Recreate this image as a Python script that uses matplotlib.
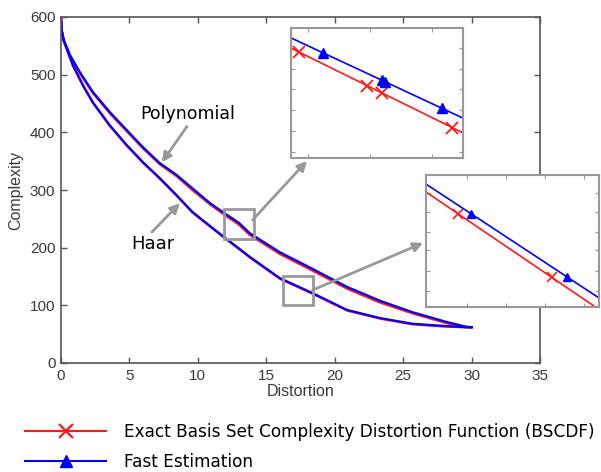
import matplotlib.pyplot as plt
from matplotlib.lines import Line2D
from matplotlib.patches import Rectangle

# main curves (upper = polynomial, lower = Haar)
poly_x = [0, 0.05, 0.2, 0.66, 1.39, 2.33, 3.57, 4.8, 6.0, 7.2, 8.45, 9.6, 10.9, 12.0, 13.0,
          13.8, 16.0, 18.4, 20.9, 23.3, 25.7, 28.2, 29.6, 30.0]
poly_fast = [600, 577, 560, 534, 504, 470, 435, 404, 374, 347, 326, 303, 277, 259, 243,
             225, 192, 163, 132, 108, 88, 71, 63, 62]
poly_exact = [600, 576, 558, 532, 502, 468, 433, 402, 372, 345, 324, 300, 275, 256, 240,
              222, 189, 160, 129, 105, 86, 69, 62, 62]

haar_x = [0, 0.05, 0.2, 0.5, 0.88, 1.6, 2.33, 3.57, 4.8, 6.0, 7.2, 8.45, 9.6, 11.4, 13.8,
          16.0, 18.4, 20.9, 23.3, 25.7, 28.2, 29.6, 30.0]
haar_fast = [600, 577, 560, 540, 516, 482, 452, 412, 378, 348, 321, 291, 262, 228, 184,
             147, 121, 92, 78, 68, 64, 62, 62]
haar_exact = [600, 576, 559, 539, 515, 481, 451, 411, 377, 347, 320, 290, 261, 227, 183,
              146, 120, 91, 77, 67, 63, 62, 62]

# zoomed views
z1_line_x = [11.8, 14.2]
z1_fast_line = [264.5, 229.5]
z1_exact_line = [260.5, 223.5]
z1_exact_mx = [12.0, 12.87, 13.06, 13.96]
z1_exact_my = [257.5, 244.0, 241.1, 227.2]
z1_fast_mx = [12.31, 13.06, 13.10, 13.83]
z1_fast_my = [257.0, 246.1, 245.5, 234.9]

z2_line_x = [16.1, 18.5]
z2_fast_line = [149.5, 101.5]
z2_exact_line = [146.5, 97.0]
z2_exact_mx = [16.61, 17.80]
z2_exact_my = [135.9, 111.4]
z2_fast_mx = [16.77, 17.99]
z2_fast_my = [136.1, 111.7]

RED = '#ff1a1a'
BLUE = '#0000ff'
GRAY = '#999999'
AX = '#555555'

plt.rcParams['font.family'] = ['Liberation Sans', 'DejaVu Sans']

fig = plt.figure(figsize=(6.01, 4.72), dpi=100)
ax = fig.add_axes([61 / 601, 1 - 363 / 472, 479 / 601, 346 / 472])

ax.plot(poly_x, poly_exact, color=RED, lw=1.7)
ax.plot(haar_x, haar_exact, color=RED, lw=1.7)
ax.plot(poly_x, poly_fast, color=BLUE, lw=1.6)
ax.plot(haar_x, haar_fast, color=BLUE, lw=1.6)

ax.set_xlim(0, 35)
ax.set_ylim(0, 600)
ax.set_xticks([0, 5, 10, 15, 20, 25, 30, 35])
ax.set_yticks([0, 100, 200, 300, 400, 500, 600])
ax.tick_params(direction='in', top=True, right=True, length=4, width=1, colors=AX,
               labelsize=11, labelcolor='#3a3a3a', pad=4)
for s in ax.spines.values():
    s.set_color(AX)
    s.set_linewidth(1.2)
ax.set_xlabel('Distortion', fontsize=11.5, color='#3a3a3a', labelpad=1)
ax.set_ylabel('Complexity', fontsize=11.5, color='#3a3a3a', labelpad=5)

# boxes on the main plot
ax.add_patch(Rectangle((11.9, 215), 2.2, 52, fill=False, ec=GRAY, lw=2, zorder=5))
ax.add_patch(Rectangle((16.2, 100), 2.2, 51, fill=False, ec=GRAY, lw=2, zorder=5))

arrow = dict(arrowstyle='-|>', color=GRAY, lw=2, mutation_scale=14, shrinkA=0, shrinkB=0)
ax.text(9.26, 431, 'Polynomial', fontsize=12.5, family='DejaVu Sans', ha='center', va='center')
ax.annotate('', xy=(7.37, 348), xytext=(9.2, 410), arrowprops=arrow)
ax.text(6.7, 206, 'Haar', fontsize=13, family='DejaVu Sans', ha='center', va='center')
ax.annotate('', xy=(8.68, 277), xytext=(6.64, 227), arrowprops=arrow)

# inset 1
in1 = fig.add_axes([291 / 601, 1 - 158 / 472, 172 / 601, 130 / 472])
in1.plot(z1_line_x, z1_exact_line, color=RED, lw=1.2)
in1.plot(z1_line_x, z1_fast_line, color=BLUE, lw=1.2)
in1.plot(z1_exact_mx, z1_exact_my, ls='none', marker='x', ms=8, mew=1.3, color=RED)
in1.plot(z1_fast_mx, z1_fast_my, ls='none', marker='^', ms=7, color=BLUE)
in1.set_xlim(11.9, 14.1)
in1.set_ylim(215, 267)
in1.set_xticks([12.12, 12.91, 13.70])
in1.set_yticks([217.4, 225.8, 234.2, 242.6, 250.6, 259])

# inset 2
in2 = fig.add_axes([426 / 601, 1 - 307 / 472, 173 / 601, 132 / 472])
in2.plot(z2_line_x, z2_exact_line, color=RED, lw=1.2)
in2.plot(z2_line_x, z2_fast_line, color=BLUE, lw=1.2)
in2.plot(z2_exact_mx, z2_exact_my, ls='none', marker='x', ms=7, mew=1.2, color=RED)
in2.plot(z2_fast_mx, z2_fast_my, ls='none', marker='^', ms=6, color=BLUE)
in2.set_xlim(16.2, 18.4)
in2.set_ylim(100, 151)
in2.set_xticks([16.72, 17.22, 17.71, 18.21])
in2.set_yticks([106.2, 113.9, 122.0, 129.0, 136.7, 144.0])

for a in (in1, in2):
    a.tick_params(direction='in', top=True, right=True, length=3, width=0.8, colors=GRAY,
                  labelbottom=False, labelleft=False)
    for s in a.spines.values():
        s.set_color(GRAY)
        s.set_linewidth(1.5)

# connectors from boxes to insets
ax.annotate('', xy=(0.093, -0.023), xycoords=in1.transAxes, xytext=(14.0, 248),
            textcoords='data', arrowprops=arrow, annotation_clip=False)
ax.annotate('', xy=(-0.017, 0.485), xycoords=in2.transAxes, xytext=(18.38, 126.5),
            textcoords='data', arrowprops=arrow, annotation_clip=False)

handles = [Line2D([], [], color=RED, lw=1.5, marker='x', ms=10, mew=1.6),
           Line2D([], [], color=BLUE, lw=1.5, marker='^', ms=9)]
labels = ['Exact Basis Set Complexity Distortion Function (BSCDF)', 'Fast Estimation']
fig.legend(handles, labels, loc='upper left', bbox_to_anchor=(25 / 601, 1 - 423 / 472),
           frameon=False, prop={'family': 'DejaVu Sans', 'size': 12.2},
           handlelength=4.8, handletextpad=1.05, labelspacing=0.68, borderpad=0,
           borderaxespad=0)

fig.savefig('out.png', dpi=100)
